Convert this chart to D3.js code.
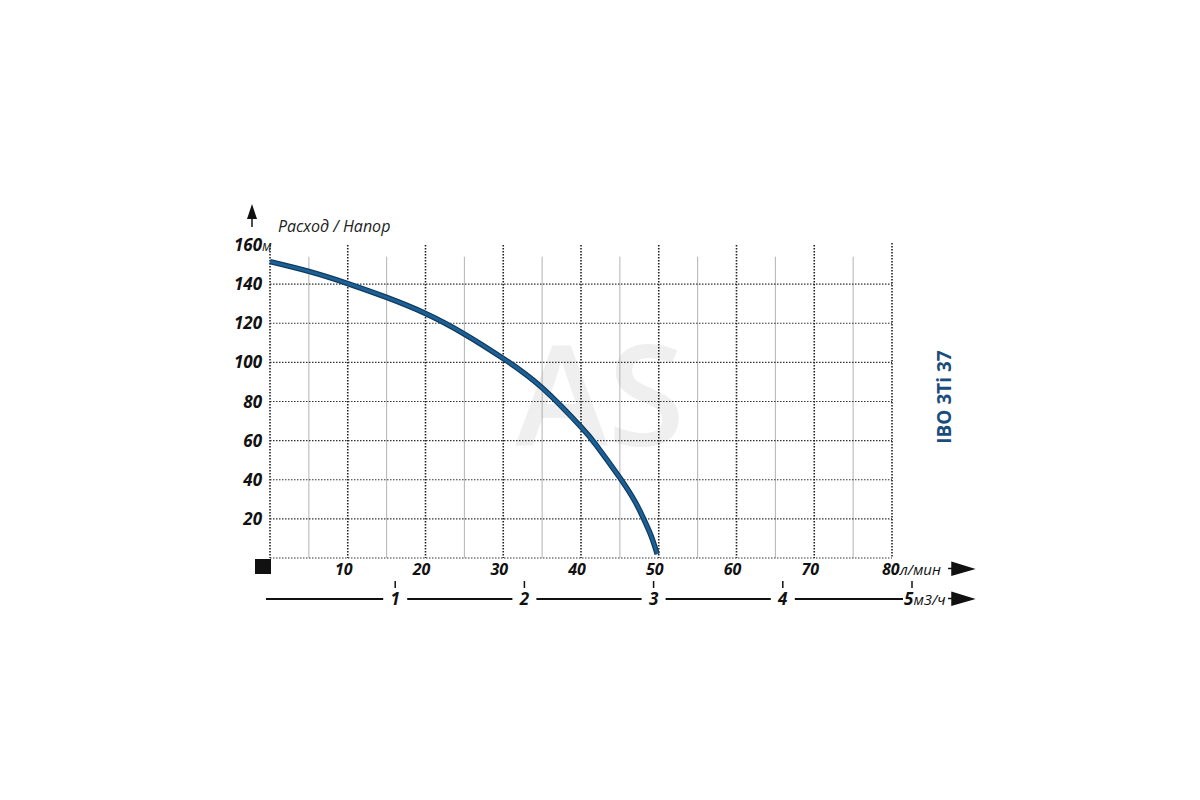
<!DOCTYPE html>
<html lang="ru">
<head>
  <meta charset="utf-8">
  <title>IBO 3Ti 37</title>
  <script src="https://cdn.jsdelivr.net/npm/d3@7"></script>
  <style>
    html, body { margin: 0; padding: 0; background: #fff; }
    svg text { font-family: "Open Sans", "DejaVu Sans", sans-serif; }
  </style>
</head>
<body>
  <svg id="chart" width="1200" height="800"></svg>

  <script>
    // --- data: head curve ---
    var flowLmin = [0, 5, 10, 15, 20, 25, 30, 35, 40, 42, 45, 47, 48, 49, 49.8];
    var headM    = [151.5, 146.5, 140.3, 133.2, 125, 114.5, 102, 87, 67, 57.5, 41, 28.5, 20.5, 11.5, 2];

    var flowTicks   = [10, 20, 30, 40, 50, 60, 70, 80];
    var minorTicks  = [5, 15, 25, 35, 45, 55, 65, 75];
    var headTicks   = [20, 40, 60, 80, 100, 120, 140, 160];
    var cubicTicks  = [1, 2, 3, 4, 5];

    var pumpName   = "IBO 3Ti 37";
    var chartTitle = "Расход / Напор";

    // --- scales ---
    var svg = d3.select("#chart");
    var x  = d3.scaleLinear().domain([0, 80]).range([270, 892]);
    var y  = d3.scaleLinear().domain([0, 160]).range([558, 245]);
    var xm = d3.scaleLinear().domain([0, 5]).range([266, 912]);

    // watermark
    svg.append("text")
      .attr("x", 600).attr("y", 446)
      .attr("text-anchor", "middle")
      .attr("font-size", 140).attr("font-weight", 600)
      .attr("fill", "#efefef")
      .text("AS");

    // grid
    var grid = svg.append("g");

    grid.selectAll(".minor").data(minorTicks).enter().append("line")
      .attr("x1", x).attr("x2", x)
      .attr("y1", y(154)).attr("y2", y(0))
      .attr("stroke", "#a0a0a0").attr("stroke-width", 0.8);

    grid.selectAll(".hline").data([0].concat(headTicks.slice(0, -1))).enter().append("line")
      .attr("x1", x(0)).attr("x2", x(80))
      .attr("y1", y).attr("y2", y)
      .attr("stroke", "#333").attr("stroke-width", 1.2)
      .attr("stroke-dasharray", "1.5,1.5");

    grid.selectAll(".major").data([0].concat(flowTicks)).enter().append("line")
      .attr("x1", x).attr("x2", x)
      .attr("y1", function (d) { return d === 80 ? y(161) : y(160); })
      .attr("y2", y(0))
      .attr("stroke", "#222").attr("stroke-width", 1.6)
      .attr("stroke-dasharray", "1.5,1.5");

    // head curve
    var pts = flowLmin.map(function (q, i) { return [q, headM[i]]; });
    var line = d3.line()
      .x(function (d) { return x(d[0]); })
      .y(function (d) { return y(d[1]); })
      .curve(d3.curveNatural);

    svg.append("path").datum(pts)
      .attr("d", line).attr("fill", "none")
      .attr("stroke", "#103b5e").attr("stroke-width", 5.5);
    svg.append("path").datum(pts)
      .attr("d", line).attr("fill", "none")
      .attr("stroke", "#1d6096").attr("stroke-width", 3);

    // y axis labels
    var yl = svg.append("g")
      .attr("font-weight", 700).attr("font-style", "italic")
      .attr("font-size", 17).attr("fill", "#111");
    yl.selectAll("text").data(headTicks).enter().append("text")
      .attr("x", 262).attr("y", function (d) { return y(d) + 6; })
      .attr("text-anchor", "end")
      .text(function (d) { return d; });

    svg.append("text")
      .attr("x", 262).attr("y", y(160) + 6)
      .attr("font-style", "italic").attr("font-size", 14).attr("fill", "#222")
      .text("м");

    // y arrow
    svg.append("line")
      .attr("x1", 252).attr("x2", 252).attr("y1", 214).attr("y2", 227)
      .attr("stroke", "#111").attr("stroke-width", 1.5);
    svg.append("path")
      .attr("d", "M252,204 L257,219 L247,219 Z")
      .attr("fill", "#111");

    // title
    svg.append("text")
      .attr("x", 278).attr("y", 232)
      .attr("font-style", "italic").attr("font-size", 16).attr("fill", "#222")
      .text(chartTitle);

    // origin square
    svg.append("rect")
      .attr("x", 255).attr("y", 559).attr("width", 16).attr("height", 15)
      .attr("fill", "#111");

    // x axis labels (l/min)
    var xl = svg.append("g")
      .attr("font-weight", 700).attr("font-style", "italic")
      .attr("font-size", 16).attr("fill", "#111");
    xl.selectAll("text").data(flowTicks.slice(0, -1)).enter().append("text")
      .attr("x", function (d) { return x(d) - 4; }).attr("y", 575)
      .attr("text-anchor", "middle")
      .text(function (d) { return d; });

    var last = svg.append("text")
      .attr("x", x(80) - 10).attr("y", 575).attr("fill", "#111");
    last.append("tspan")
      .attr("font-weight", 700).attr("font-style", "italic").attr("font-size", 16)
      .text("80");
    last.append("tspan")
      .attr("font-style", "italic").attr("font-size", 15)
      .text("л/мин");
    svg.append("path")
      .attr("d", "M948,568.5 L953,568.5 M952,562.5 L973,569 L952,575 Z")
      .attr("fill", "#111").attr("stroke", "#111").attr("stroke-width", 1.5);

    // second axis (m3/h)
    var lineY = 599;
    var gap = 12;
    var stops = [266 - gap].concat(cubicTicks.slice(0, -1).map(xm)).concat([xm(5) - 9 + gap]);
    var segs = d3.pairs(stops).map(function (p) { return [p[0] + gap, p[1] - gap]; });
    svg.selectAll(".seg").data(segs).enter().append("line")
      .attr("x1", function (d) { return d[0]; }).attr("x2", function (d) { return d[1]; })
      .attr("y1", lineY).attr("y2", lineY)
      .attr("stroke", "#111").attr("stroke-width", 2);

    svg.selectAll(".mtick").data(cubicTicks).enter().append("line")
      .attr("x1", xm).attr("x2", xm)
      .attr("y1", 581).attr("y2", 588)
      .attr("stroke", "#111").attr("stroke-width", 1.5);

    var ml = svg.append("g")
      .attr("font-weight", 700).attr("font-style", "italic")
      .attr("font-size", 17).attr("fill", "#111");
    ml.selectAll("text").data(cubicTicks.slice(0, -1)).enter().append("text")
      .attr("x", xm).attr("y", 605)
      .attr("text-anchor", "middle")
      .text(function (d) { return d; });

    var m5 = svg.append("text")
      .attr("x", xm(5) - 8).attr("y", 605).attr("fill", "#111");
    m5.append("tspan")
      .attr("font-weight", 700).attr("font-style", "italic").attr("font-size", 17)
      .text("5");
    m5.append("tspan")
      .attr("font-style", "italic").attr("font-size", 15)
      .text("м3/ч");
    svg.append("path")
      .attr("d", "M948,598.5 L953,598.5 M952,592.5 L973,599 L952,605 Z")
      .attr("fill", "#111").attr("stroke", "#111").attr("stroke-width", 1.5);

    // pump name
    svg.append("text")
      .attr("transform", "translate(951,397) rotate(-90)")
      .attr("text-anchor", "middle")
      .attr("font-weight", 700).attr("font-size", 19)
      .attr("fill", "#1a4c7c")
      .text(pumpName);
  </script>
</body>
</html>
